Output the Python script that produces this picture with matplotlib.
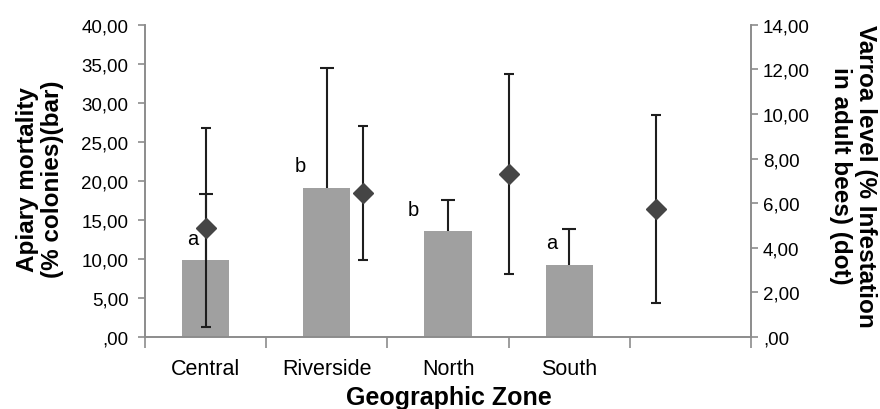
import matplotlib
matplotlib.use("Agg")
import matplotlib.pyplot as plt
from matplotlib.ticker import FuncFormatter, MultipleLocator

plt.rcParams["font.family"] = ["Liberation Sans", "DejaVu Sans"]

# bars: apiary mortality (% colonies), left axis
zones = ["Central", "Riverside", "North", "South", ""]
mortality = [9.8, 19.1, 13.55, 9.25]
mortality_err = [8.5, 15.3, 3.95, 4.6]
letters = ["a", "b", "b", "a"]
letter_dx = [-0.11, -0.22, -0.29, -0.14]

# dots: varroa level (% infestation in adult bees), right axis
varroa_x = [0.0, 1.3, 2.5, 3.72]
varroa = [4.9, 6.46, 7.3, 5.74]
varroa_err = [4.47, 3.0, 4.48, 4.22]


def comma_fmt(v, _):
    s = f"{v:.2f}".replace(".", ",")
    return s[1:] if s.startswith("0,") else s


fig = plt.figure(figsize=(8.8, 4.1), dpi=100)
ax = fig.add_axes([0.1648, 0.1756, 0.6886, 0.7617])
ax2 = ax.twinx()

grey = "#8c8c8c"
ink = "#1e1e1e"
xs = list(range(len(mortality)))
tops = [h + e for h, e in zip(mortality, mortality_err)]
ax.bar(xs, mortality, width=0.39, color="#a0a0a0", zorder=2)
# plus-only error bars on the bars
ax.vlines(xs, mortality, tops, color=ink, lw=1.5, zorder=3)
ax.plot(xs, tops, ls="none", marker="_", ms=10, mew=1.5, color=ink, zorder=3)
for x, h, t, dx in zip(xs, mortality, letters, letter_dx):
    ax.text(x + dx, h + 1.6, t, ha="center", va="bottom", fontsize=14.5)

ax2.errorbar(varroa_x, varroa, yerr=varroa_err, fmt="D", color="#454545",
             markersize=10, ecolor=ink, elinewidth=1.5, capsize=3.6,
             capthick=1.5, zorder=4)

ax.set_xlim(-0.5, len(zones) - 0.5)
ax.set_ylim(0, 40)
ax2.set_ylim(0, 14)
ax.yaxis.set_major_locator(MultipleLocator(5))
ax2.yaxis.set_major_locator(MultipleLocator(2))
ax.yaxis.set_major_formatter(FuncFormatter(comma_fmt))
ax2.yaxis.set_major_formatter(FuncFormatter(comma_fmt))

ax.set_xticks([i - 0.5 for i in range(len(zones) + 1)])
ax.set_xticklabels([])
ax.set_xticks(range(len(zones)), minor=True)
ax.set_xticklabels(zones, minor=True, fontsize=15.5)
ax.tick_params(axis="x", which="major", length=8, color=grey, width=1.2)
ax.tick_params(axis="x", which="minor", length=0, pad=15)

for a in (ax, ax2):
    a.spines["top"].set_visible(False)
    for s in ("left", "right", "bottom"):
        a.spines[s].set_color(grey)
        a.spines[s].set_linewidth(1.2)
    a.tick_params(axis="y", length=5, color=grey, width=1.2, labelsize=13.5)
ax.tick_params(axis="y", pad=7)
ax2.tick_params(axis="y", pad=3.5)

fig.text(449 / 880, 0.029, "Geographic Zone", fontsize=18, fontweight="bold",
         ha="center", va="center")
fig.text(40 / 880, 0.563, "Apiary mortality\n(% colonies)(bar)", fontsize=17.5,
         fontweight="bold", rotation=90, ha="center", va="center",
         linespacing=1.1)
fig.text(853 / 880, 0.57, "Varroa level (% Infestation\nin adult bees) (dot)",
         fontsize=17.5, fontweight="bold", rotation=270, ha="center",
         va="center", linespacing=1.1)

fig.savefig("out.png", dpi=100)
